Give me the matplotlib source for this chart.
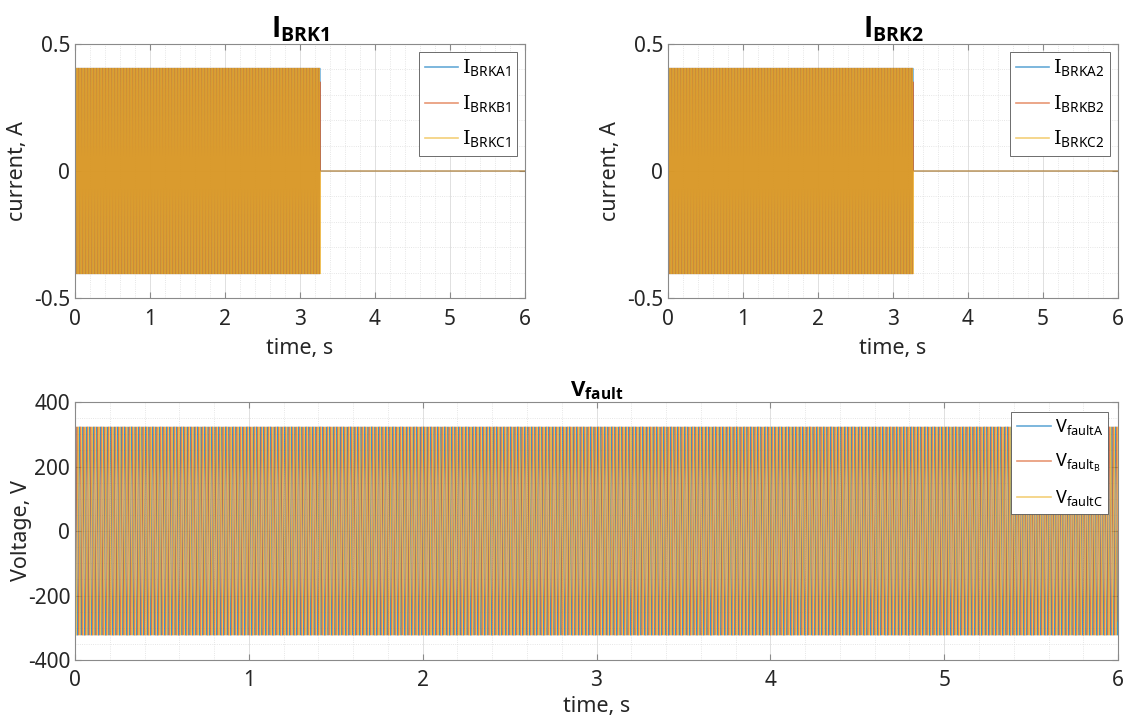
import numpy as np
import matplotlib
matplotlib.use("Agg")
import matplotlib.pyplot as plt
from matplotlib import font_manager
from matplotlib.ticker import MultipleLocator

# signal parameters
f_hz = 50.0
t_end = 6.0
dt = 1e-4
i_amp = 0.405          # breaker current peak, A
trip_time = 3.27       # breakers open, s
v_amp = 323.0          # fault voltage peak, V
phase_shift = [0.0, -2*np.pi/3, 2*np.pi/3]

names_brk1 = ['BRKA1', 'BRKB1', 'BRKC1']
names_brk2 = ['BRKA2', 'BRKB2', 'BRKC2']
v_labels = [r'$\mathregular{V_{faultA}}$', r'$\mathregular{V_{fault_B}}$', r'$\mathregular{V_{faultC}}$']

colors = ['#0072BD', '#D95319', '#EDB120']

# find a sans family with a real bold face for the titles
bold_family = 'DejaVu Sans'
for fam in ['Noto Sans', 'Open Sans', 'Lato', 'Roboto']:
    hits = [f for f in font_manager.fontManager.ttflist
            if f.name == fam and f.style == 'normal'
            and (f.weight == 'bold' or (isinstance(f.weight, int) and f.weight >= 700))]
    if hits:
        bold_family = fam
        break

plt.rcParams['font.family'] = ['Noto Sans', 'DejaVu Sans']
plt.rcParams['mathtext.fontset'] = 'custom'
plt.rcParams['mathtext.rm'] = 'DejaVu Serif'
plt.rcParams['mathtext.sf'] = 'Noto Sans'
plt.rcParams['mathtext.bf'] = bold_family + ':bold'
plt.rcParams['axes.edgecolor'] = '#8a8a8a'
plt.rcParams['xtick.color'] = '#262626'
plt.rcParams['ytick.color'] = '#262626'

t = np.arange(0, t_end + dt/2, dt)
w = 2*np.pi*f_hz


def style(ax, xminor, yminor, pad):
    ax.minorticks_on()
    ax.xaxis.set_minor_locator(MultipleLocator(xminor))
    ax.yaxis.set_minor_locator(MultipleLocator(yminor))
    ax.grid(True, which='major', color='#dadada', lw=0.6)
    ax.grid(True, which='minor', color='#dedede', lw=0.6, ls=':')
    ax.tick_params(which='both', direction='in', top=True, right=True, labelsize=15)
    ax.tick_params(axis='x', pad=pad)
    ax.tick_params(which='major', length=4, color='#8a8a8a')
    ax.tick_params(which='minor', length=0)
    ax.set_axisbelow(True)


def fix_legend(leg):
    leg.get_frame().set_linewidth(0.6)
    for ln in leg.get_lines():
        ln.set_linewidth(1.2)
        ln.set_alpha(0.6)


fig = plt.figure(figsize=(11.33, 7.2), dpi=100)
ax1 = fig.add_axes([0.0662, 0.5861, 0.3972, 0.3528])
ax2 = fig.add_axes([0.5896, 0.5861, 0.3972, 0.3528])
ax3 = fig.add_axes([0.0662, 0.0833, 0.9206, 0.3583])

for ax, names, ttl in [(ax1, names_brk1, 'BRK1'), (ax2, names_brk2, 'BRK2')]:
    for k in range(3):
        i = i_amp*np.sin(w*t + phase_shift[k])
        i[t > trip_time] = 0.0
        ax.plot(t, i, color=colors[k], lw=0.6, alpha=0.7,
                label=r'$\mathrm{I}_{\mathregular{%s}}$' % names[k])
    ax.set_xlim(0, 6)
    ax.set_ylim(-0.5, 0.5)
    ax.set_xticks(range(7))
    ax.set_yticks([-0.5, 0, 0.5])
    ax.set_yticklabels(['-0.5', '0', '0.5'])
    style(ax, 0.2, 0.1, 8)
    ax.set_xlabel('time, s', fontsize=15.5, color='#262626', labelpad=6)
    ax.set_ylabel('current, A', fontsize=15.5, color='#262626', labelpad=4)
    ax.set_title(r'$\mathbf{I_{%s}}$' % ttl, fontsize=20, pad=4)
    leg = ax.legend(loc='upper right', fontsize=14, fancybox=False,
                    edgecolor='#555555', framealpha=1, handlelength=1.7,
                    handletextpad=0.2, borderaxespad=0.41, labelspacing=0.74,
                    borderpad=0.3)
    fix_legend(leg)

for k in range(3):
    v = v_amp*np.sin(w*t + phase_shift[k])
    ax3.plot(t, v, color=colors[k], lw=0.6, alpha=0.75, label=v_labels[k])
ax3.set_xlim(0, 6)
ax3.set_ylim(-400, 400)
ax3.set_xticks(range(7))
ax3.set_yticks([-400, -200, 0, 200, 400])
ax3.set_yticklabels(['-400', '-200', '0', '200', '400'])
style(ax3, 0.2, 50, 7)
ax3.set_xlabel('time, s', fontsize=15.5, color='#262626', labelpad=4)
ax3.set_ylabel('Voltage, V', fontsize=15.5, color='#262626', labelpad=-3)
ax3.set_title(r'$\mathbf{V_{fault}}$', fontsize=16, pad=4)
leg = ax3.legend(loc='upper right', fontsize=13, fancybox=False,
                 edgecolor='#555555', framealpha=1, handlelength=1.9,
                 handletextpad=0.2, borderaxespad=0.55, labelspacing=0.8,
                 borderpad=0.3)
fix_legend(leg)

fig.savefig('out.png', dpi=100)
